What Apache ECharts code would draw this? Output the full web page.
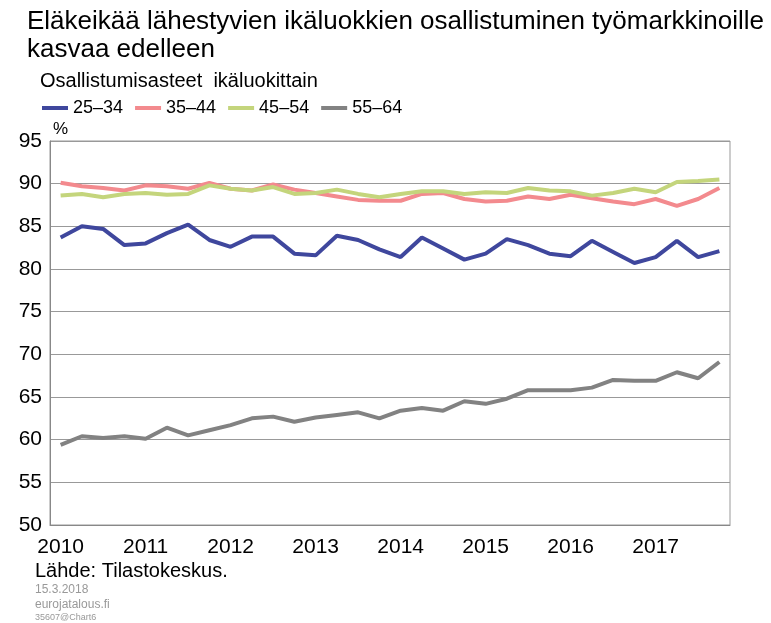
<!DOCTYPE html>
<html>
<head>
<meta charset="utf-8">
<script src="https://cdn.jsdelivr.net/npm/echarts@6/dist/echarts.min.js"></script>
<style>
html, body { margin: 0; padding: 0; background: #fff; }
#main { width: 771px; height: 623px; }
</style>
</head>
<body>
<div id="main"></div>
<script>
var years = ['2010', '2011', '2012', '2013', '2014', '2015', '2016', '2017'];
var yTicks = { min: 50, max: 95, step: 5 };

// osallistumisasteet, neljännesvuosittain 2010Q1 - 2017Q4
var age2534 = [83.7, 85.0, 84.7, 82.8, 83.0, 84.2, 85.2, 83.4,
               82.6, 83.8, 83.8, 81.8, 81.6, 83.9, 83.4, 82.3,
               81.4, 83.7, 82.4, 81.1, 81.8, 83.5, 82.8, 81.8,
               81.5, 83.3, 82.0, 80.7, 81.4, 83.3, 81.4, 82.1];
var age3544 = [90.1, 89.7, 89.5, 89.2, 89.8, 89.7, 89.4, 90.1,
               89.4, 89.2, 89.9, 89.3, 88.9, 88.5, 88.1, 88.0,
               88.0, 88.8, 88.9, 88.2, 87.9, 88.0, 88.5, 88.2,
               88.7, 88.3, 87.9, 87.6, 88.2, 87.4, 88.2, 89.5];
var age4554 = [88.6, 88.8, 88.4, 88.8, 88.9, 88.7, 88.8, 89.8,
               89.4, 89.2, 89.6, 88.8, 88.9, 89.3, 88.8, 88.4,
               88.8, 89.1, 89.1, 88.8, 89.0, 88.9, 89.5, 89.2,
               89.1, 88.6, 88.9, 89.4, 89.0, 90.2, 90.3, 90.5];
var age5564 = [59.4, 60.4, 60.2, 60.4, 60.1, 61.4, 60.5, 61.1,
               61.7, 62.5, 62.7, 62.1, 62.6, 62.9, 63.2, 62.5,
               63.4, 63.7, 63.4, 64.5, 64.2, 64.8, 65.8, 65.8,
               65.8, 66.1, 67.0, 66.9, 66.9, 67.9, 67.2, 69.1];

var quarters = [];
years.forEach(function (y) {
    for (var q = 1; q <= 4; q++) quarters.push(y + 'Q' + q);
});

var font = 'Liberation Sans, Arial, sans-serif';
var myChart = echarts.init(document.getElementById('main'));

var option = {
    backgroundColor: '#fff',
    animation: false,
    textStyle: { fontFamily: font },
    title: [
        {
            text: 'Eläkeikää lähestyvien ikäluokkien osallistuminen työmarkkinoille\nkasvaa edelleen',
            left: 27, top: 8,
            padding: 0,
            textStyle: { fontSize: 26, fontWeight: 'normal', color: '#000', lineHeight: 28, fontFamily: font }
        },
        {
            text: 'Osallistumisasteet  ikäluokittain',
            left: 40, top: 71,
            padding: 0,
            textStyle: { fontSize: 20, fontWeight: 'normal', color: '#000', fontFamily: font }
        }
    ],
    legend: {
        left: 42, top: 99,
        padding: 0,
        icon: 'rect',
        itemWidth: 26, itemHeight: 4, itemGap: 12,
        textStyle: { fontSize: 18, color: '#000', fontFamily: font },
        data: ['25–34', '35–44', '45–54', '55–64']
    },
    grid: {
        left: 50, top: 141, width: 680, height: 384,
        show: true, borderColor: '#999', borderWidth: 1
    },
    xAxis: {
        type: 'category',
        data: quarters,
        boundaryGap: true,
        axisLine: { lineStyle: { color: '#888', width: 1 } },
        axisTick: { inside: true, length: 5, interval: 0, lineStyle: { color: '#888' } },
        axisLabel: {
            interval: function (i) { return i % 4 === 0; },
            formatter: function (v) { return v.slice(0, 4); },
            fontSize: 21, color: '#000', margin: 12
        }
    },
    yAxis: {
        type: 'value',
        min: yTicks.min, max: yTicks.max, interval: yTicks.step,
        axisLine: { show: true, lineStyle: { color: '#888' } },
        axisTick: { show: false },
        axisLabel: { fontSize: 21, color: '#000', margin: 8 },
        splitLine: { lineStyle: { color: '#999', width: 1 } }
    },
    graphic: [
        { type: 'text', left: 53, top: 121, style: { text: '%', fontSize: 17, fill: '#000', fontFamily: font } },
        { type: 'text', left: 35, top: 561, style: { text: 'Lähde: Tilastokeskus.', fontSize: 20, fill: '#000', fontFamily: font } },
        { type: 'text', left: 35, top: 584, style: { text: '15.3.2018', fontSize: 12, fill: '#999', fontFamily: font } },
        { type: 'text', left: 35, top: 599, style: { text: 'eurojatalous.fi', fontSize: 12, fill: '#999', fontFamily: font } },
        { type: 'text', left: 35, top: 613, style: { text: '35607@Chart6', fontSize: 9, fill: '#999', fontFamily: font } }
    ],
    series: [
        { name: '25–34', type: 'line', data: age2534, symbol: 'none', color: '#3f479d', lineStyle: { width: 4 } },
        { name: '35–44', type: 'line', data: age3544, symbol: 'none', color: '#f38a8e', lineStyle: { width: 4 } },
        { name: '45–54', type: 'line', data: age4554, symbol: 'none', color: '#c4d57c', lineStyle: { width: 4 } },
        { name: '55–64', type: 'line', data: age5564, symbol: 'none', color: '#828282', lineStyle: { width: 4 } }
    ]
};
myChart.setOption(option);
</script>
</body>
</html>
